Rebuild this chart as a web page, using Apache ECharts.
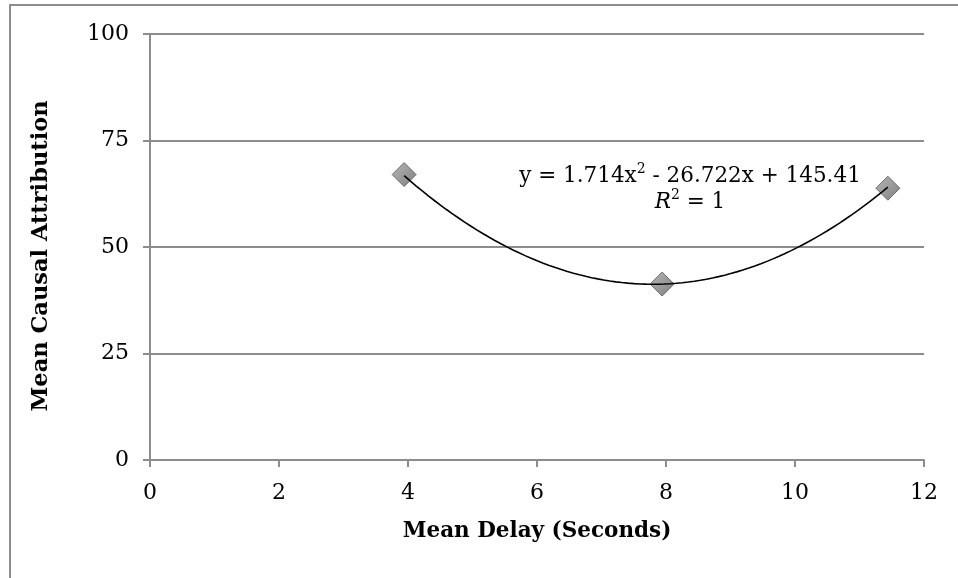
<!DOCTYPE html>
<html>
<head>
<meta charset="utf-8">
<script src="https://cdn.jsdelivr.net/npm/echarts@6/dist/echarts.min.js"></script>
<style>
  html, body { margin: 0; padding: 0; background: #fff; }
  #chart { width: 958px; height: 578px; }
</style>
</head>
<body>
<div id="chart"></div>
<script>
// Mean delay (s) vs. mean causal attribution
const delays = [3.94, 7.94, 11.44];
const attributions = [67.0, 41.3, 63.8];

// Polynomial trendline coefficients (a*x^2 + b*x + c) and fit quality
const trendCoef = [1.714, -26.722, 145.41];
const rSquared = 1;

const xTicks = [0, 2, 4, 6, 8, 10, 12];
const yTicks = [0, 25, 50, 75, 100];

const xTitle = 'Mean Delay (Seconds)';
const yTitle = 'Mean Causal Attribution';

const FONT = 'DejaVu Serif';

// Trendline sampled across the range of the observed delays
const trendPoints = [];
const steps = 80;
const x0 = delays[0], x1 = delays[delays.length - 1];
for (let i = 0; i <= steps; i++) {
  const x = x0 + (x1 - x0) * i / steps;
  trendPoints.push([x, trendCoef[0] * x * x + trendCoef[1] * x + trendCoef[2]]);
}

const chart = echarts.init(document.getElementById('chart'), null, { renderer: 'canvas' });

const fmtSigned = v => (v < 0 ? ' - ' : ' + ') + Math.abs(v);

chart.setOption({
  animation: false,
  backgroundColor: '#fff',
  grid: { left: 150, right: 34, top: 34, bottom: 118 },
  xAxis: {
    type: 'value',
    min: xTicks[0], max: xTicks[xTicks.length - 1], interval: 2,
    name: xTitle,
    nameLocation: 'middle', nameGap: 60,
    nameTextStyle: { fontFamily: FONT, fontWeight: 'bold', fontSize: 21.5, color: '#000' },
    axisLine: { show: true, lineStyle: { color: '#8c8c8c', width: 2 } },
    axisTick: { show: true, length: 7, lineStyle: { color: '#8c8c8c', width: 2 } },
    axisLabel: { fontFamily: FONT, fontSize: 22, color: '#000', margin: 22 },
    splitLine: { show: false }
  },
  yAxis: {
    type: 'value',
    min: yTicks[0], max: yTicks[yTicks.length - 1], interval: 25,
    axisLine: { show: true, lineStyle: { color: '#8c8c8c', width: 2 } },
    axisTick: { show: true, length: 7, lineStyle: { color: '#8c8c8c', width: 2 } },
    axisLabel: { fontFamily: FONT, fontSize: 22, color: '#000', margin: 21 },
    splitLine: { show: true, lineStyle: { color: '#8c8c8c', width: 2 } }
  },
  series: [
    {
      type: 'scatter',
      data: delays.map((d, i) => [d, attributions[i]]),
      symbol: 'diamond',
      symbolSize: [24, 24],
      z: 2,
      itemStyle: {
        color: new echarts.graphic.LinearGradient(0, 0, 1, 1, [
          { offset: 0, color: '#a4a4a4' },
          { offset: 1, color: '#606060' }
        ]),
        borderColor: '#555',
        borderWidth: 1
      }
    },
    {
      type: 'line',
      data: trendPoints,
      showSymbol: false,
      smooth: false,
      z: 3,
      lineStyle: { color: '#000', width: 1.6 }
    }
  ],
  graphic: [
    {
      type: 'rect',
      shape: { x: 10, y: 5, width: 1000, height: 700 },
      style: { fill: 'none', stroke: '#8c8c8c', lineWidth: 2 },
      silent: true, z: -1
    },
    {
      type: 'text',
      x: 41, y: 256,
      rotation: Math.PI / 2,
      style: {
        text: yTitle,
        fontFamily: FONT, fontWeight: 'bold', fontSize: 22.5, fill: '#000',
        align: 'center', verticalAlign: 'middle'
      }
    },
    {
      type: 'text',
      x: 690, y: 161,
      style: {
        text: '{t|y = ' + trendCoef[0] + 'x}{s|2}{t|' + fmtSigned(trendCoef[1]) + 'x' + fmtSigned(trendCoef[2]) + '}\n' +
              '{i|R}{s|2}{t| = ' + rSquared + '}',
        align: 'center',
        verticalAlign: 'top',
        rich: {
          t: { fontFamily: FONT, fontSize: 21.5, color: '#000', lineHeight: 26, verticalAlign: 'bottom' },
          i: { fontFamily: FONT, fontSize: 21.5, fontStyle: 'italic', color: '#000', lineHeight: 26, verticalAlign: 'bottom' },
          s: { fontFamily: FONT, fontSize: 14, color: '#000', lineHeight: 26, verticalAlign: 'top', padding: [1, 0, 0, 0] }
        }
      }
    }
  ]
});
</script>
</body>
</html>
